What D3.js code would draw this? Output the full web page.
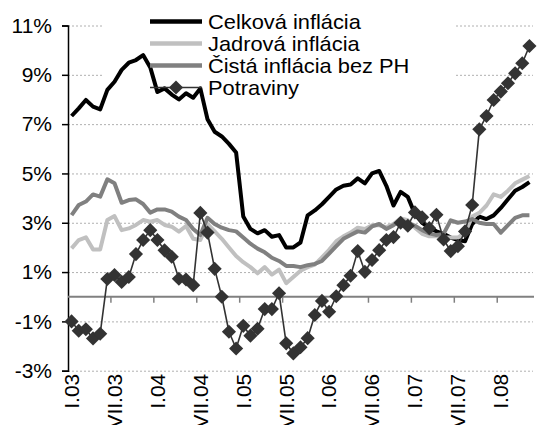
<!DOCTYPE html>
<html>
<head>
<meta charset="utf-8">
<script src="https://cdn.jsdelivr.net/npm/d3@7"></script>
<style>
  html, body { margin: 0; padding: 0; background: #fff; }
  svg { display: block; }
  text { font-family: "Liberation Sans", Arial, sans-serif; fill: #000; }
</style>
</head>
<body>
<div id="chart"></div>
<script>
// Inflation chart, monthly I.03 – V.08
const romanMonths = ["I", "II", "III", "IV", "V", "VI", "VII", "VIII", "IX", "X", "XI", "XII"];
const years = ["03", "04", "05", "06", "07", "08"];
const monthCount = 65;

const celkova = [7.33, 7.64, 7.98, 7.71, 7.6, 8.39, 8.72, 9.2, 9.49, 9.6,
  9.8, 9.3, 8.3, 8.45, 8.2, 8.0, 8.25, 8.07, 8.45, 7.2,
  6.69, 6.5, 6.2, 5.85, 3.25, 2.75, 2.57, 2.7, 2.43, 2.5,
  2.0, 2.0, 2.2, 3.3, 3.5, 3.75, 4.05, 4.35, 4.5, 4.55,
  4.8, 4.6, 5.0, 5.1, 4.5, 3.7, 4.25, 4.05, 3.35, 3.0,
  2.8, 2.65, 2.55, 2.4, 2.3, 2.25, 2.95, 3.25, 3.15, 3.3,
  3.6, 3.95, 4.3, 4.45, 4.65];

const jadrova = [1.96, 2.3, 2.41, 1.92, 1.92, 3.11, 3.27, 2.7, 2.77, 2.91,
  3.11, 3.04, 3.11, 2.91, 2.84, 2.64, 2.87, 2.35, 2.3, 2.95,
  2.65, 2.35, 2.0, 1.65, 1.4, 1.2, 0.95, 1.2, 0.9, 1.1,
  0.55, 0.8, 1.05, 1.2, 1.3, 1.6, 1.9, 2.25, 2.45, 2.6,
  2.8, 2.75, 2.9, 2.9, 2.82, 2.95, 3.18, 3.1, 2.8, 2.55,
  2.45, 2.45, 2.4, 2.4, 2.4, 2.6, 3.25, 3.4, 3.7, 4.15,
  4.05, 4.3, 4.6, 4.75, 4.9];

const cista = [3.31, 3.72, 3.86, 4.15, 4.06, 4.76, 4.6, 3.81, 3.92, 3.95,
  3.76, 3.41, 3.54, 3.54, 3.45, 3.25, 3.11, 2.75, 2.5, 3.2,
  2.95, 2.8, 2.7, 2.65, 2.4, 2.15, 1.95, 1.8, 1.58, 1.45,
  1.25, 1.25, 1.2, 1.28, 1.33, 1.45, 1.75, 2.05, 2.35, 2.5,
  2.65, 2.6, 2.85, 2.95, 2.75, 2.9, 3.1, 2.97, 2.88, 2.7,
  2.57, 2.5, 2.55, 3.1, 3.0, 3.05, 3.15, 3.0, 2.95, 2.95,
  2.6, 2.9, 3.2, 3.3, 3.3];

const potraviny = [-1.0, -1.38, -1.32, -1.69, -1.5, 0.72, 0.88, 0.6, 0.8, 1.73,
  2.3, 2.7, 2.3, 1.88, 1.62, 0.73, 0.7, 0.47, 3.4, 2.6,
  1.13, 0.0, -1.42, -2.1, -1.18, -1.58, -1.3, -0.5, -0.5, 0.14,
  -1.89, -2.3, -2.05, -1.68, -0.74, -0.17, -0.61, 0.02, 0.47, 0.85,
  1.85, 1.01, 1.49, 1.89, 2.3, 2.42, 3.0, 2.88, 3.42, 3.22,
  2.78, 3.32, 2.32, 1.85, 2.05, 2.65, 3.72, 6.79, 7.33, 7.98,
  8.32, 8.66, 9.06, 9.47, 10.17];

const yTicks = [-3, -1, 1, 3, 5, 7, 9, 11];

const series = [
  { name: "Celková inflácia", values: celkova, color: "#000000", width: 4 },
  { name: "Jadrová inflácia", values: jadrova, color: "#c0c0c0", width: 4 },
  { name: "Čistá inflácia bez PH", values: cista, color: "#808080", width: 4 },
  { name: "Potraviny", values: potraviny, color: "#333333", width: 1.6, marker: true },
];

(function () {
  "use strict";

  const W = 537, H = 425;
  const plot = { left: 68, right: 533, top: 25.5, bottom: 370.7 };
  const fontSize = "21px";

  const categories = years
    .flatMap((yy) => romanMonths.map((m) => m + "." + yy))
    .slice(0, monthCount);

  const svg = d3.select("#chart").append("svg")
    .attr("width", W)
    .attr("height", H);

  svg.append("rect").attr("width", W).attr("height", H).attr("fill", "#fff");

  const x = d3.scaleBand().domain(categories).range([plot.left, plot.right]).padding(0);
  const y = d3.scaleLinear().domain([-3, 11]).range([plot.bottom, plot.top]);
  const cx = (i) => x(categories[i]) + x.bandwidth() / 2;

  // --- Gridlines ---
  svg.append("g")
    .attr("transform", `translate(${plot.left},0)`)
    .call(d3.axisLeft(y).tickValues(yTicks).tickSize(-(plot.right - plot.left)).tickFormat(""))
    .call((g) => g.select(".domain").remove())
    .call((g) => g.selectAll("line")
      .attr("stroke", "#b0b0b0")
      .attr("stroke-width", 1)
      .attr("stroke-dasharray", "2,2"));

  // legend box hides gridlines behind it
  svg.append("rect")
    .attr("x", 103).attr("y", 4)
    .attr("width", 352).attr("height", 96)
    .attr("fill", "#fff");

  // --- Y axis ---
  const yAxis = svg.append("g")
    .attr("transform", `translate(${plot.left},0)`)
    .call(d3.axisLeft(y).tickValues(yTicks).tickSize(6).tickPadding(10).tickFormat((d) => d + "%"));
  yAxis.select(".domain").attr("stroke", "#000").attr("stroke-width", 1.5);
  yAxis.selectAll(".tick line").attr("stroke", "#000").attr("stroke-width", 1.5);
  yAxis.selectAll("text")
    .attr("font-size", fontSize)
    .attr("fill", "#000")
    .style("font-family", "'Liberation Sans', Arial, sans-serif");

  // --- Zero axis with ticks every 6 months ---
  const y0 = y(0);
  svg.append("line")
    .attr("x1", plot.left).attr("x2", plot.right + 1)
    .attr("y1", y0).attr("y2", y0)
    .attr("stroke", "#808080").attr("stroke-width", 2);

  const tickIdx = d3.range(6, monthCount, 6);
  svg.append("g").selectAll("line")
    .data(tickIdx)
    .join("line")
    .attr("x1", (i) => x(categories[i])).attr("x2", (i) => x(categories[i]))
    .attr("y1", y0).attr("y2", y0 + 6)
    .attr("stroke", "#808080").attr("stroke-width", 1.5);

  // --- X labels (rotated, bottom is clipped like the original) ---
  const labelIdx = d3.range(0, monthCount, 6);
  svg.append("g").selectAll("text")
    .data(labelIdx)
    .join("text")
    .attr("transform", (i) => `translate(${cx(i)},${plot.bottom + 3}) rotate(-90)`)
    .attr("text-anchor", "end")
    .attr("dy", "0.35em")
    .attr("font-size", fontSize)
    .text((i) => categories[i]);

  // --- Series ---
  const line = d3.line()
    .x((d, i) => cx(i))
    .y((d) => y(d));

  const diamond = d3.symbol().type(d3.symbolSquare).size(100);

  for (const s of series) {
    svg.append("path")
      .datum(s.values)
      .attr("d", line)
      .attr("fill", "none")
      .attr("stroke", s.color)
      .attr("stroke-width", s.width)
      .attr("stroke-linejoin", "round");

    if (s.marker) {
      svg.append("g").selectAll("path")
        .data(s.values)
        .join("path")
        .attr("d", diamond)
        .attr("transform", (d, i) => `translate(${cx(i)},${y(d)}) rotate(45)`)
        .attr("fill", s.color);
    }
  }

  // --- Legend ---
  const legend = svg.append("g");
  const rowY = [21.5, 43.5, 65.5, 87.5];
  series.forEach((s, k) => {
    const row = legend.append("g").attr("transform", `translate(0,${rowY[k]})`);
    row.append("line")
      .attr("x1", 150).attr("x2", 202)
      .attr("stroke", s.color)
      .attr("stroke-width", s.marker ? s.width : s.width + 0.5);
    if (s.marker) {
      row.append("path")
        .attr("d", diamond)
        .attr("transform", "translate(176,0) rotate(45)")
        .attr("fill", s.color);
    }
    row.append("text")
      .attr("transform", "translate(208,0) scale(1.04,1)")
      .attr("dy", "0.35em")
      .attr("font-size", fontSize)
      .text(s.name);
  });
})();
</script>
</body>
</html>
